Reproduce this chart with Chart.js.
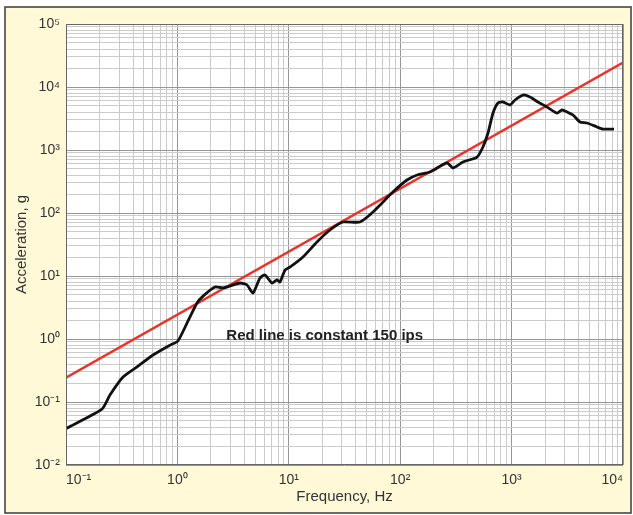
<!DOCTYPE html>
<html>
<head>
<meta charset="utf-8">
<script src="https://cdn.jsdelivr.net/npm/chart.js@4.4.1/dist/chart.umd.min.js"></script>
<style>
body { margin: 0; background: #fff; }
canvas { display: block; }
</style>
</head>
<body>
<canvas id="shockChart" width="633" height="515"></canvas>
<script>
var freqHz = [0.1, 0.21, 0.248, 0.325, 0.434, 0.604, 0.859, 1.01, 1.22, 1.5, 1.7, 2.18, 2.57,
    3.65, 4.22, 4.77, 5.51, 6.11, 7.06, 7.83, 8.34, 9.25, 10.3, 13.4, 17.9, 23.4, 30.7, 43.5,
    57, 86, 115, 142, 185, 263, 298, 366, 489, 553, 614, 681, 755, 837, 968, 1074, 1266,
    1462, 1725, 2078, 2557, 2834, 3143, 3558, 4110, 4750, 5845, 6610, 8300];
var accelG = [0.038, 0.077, 0.129, 0.249, 0.36, 0.557, 0.8, 0.93, 1.79, 3.73, 4.8, 6.69, 6.46,
    7.74, 7.2, 5.37, 9.3, 10.4, 7.74, 8.65, 8.04, 12.4, 13.9, 20, 34.7, 53.7, 72, 72,
    104, 215, 334, 401, 448, 622, 518, 645, 774, 1116, 1862, 3865, 5570, 5780, 5180, 6220, 7460,
    6940, 5780, 4820, 3865, 4315, 4010, 3595, 2780, 2685, 2320, 2150, 2150];

// red line, constant 150 ips
var lineFreq = [0.1, 10000];
var lineAccel = [0.244, 24400];

// tick labels for the decades
var decadeLabels = {
    '-2': '10⁻²', '-1': '10⁻¹', '0': '10⁰', '1': '10¹',
    '2': '10²', '3': '10³', '4': '10⁴', '5': '10⁵'
};

var noteText = 'Red line is constant 150 ips';

function toPoints(xs, ys) {
    return xs.map(function (x, i) { return { x: x, y: ys[i] }; });
}

function isDecade(v) {
    if (!v) return false;
    var l = Math.log10(v);
    return Math.abs(l - Math.round(l)) < 1e-6;
}

function decadeTicks(scale) {
    var lo = Math.round(Math.log10(scale.min));
    var hi = Math.round(Math.log10(scale.max));
    var t = [];
    for (var e = lo; e < hi; e++) {
        for (var m = 1; m < 10; m++) {
            t.push({ value: m * Math.pow(10, e) });
        }
    }
    t.push({ value: Math.pow(10, hi) });
    scale.ticks = t;
}

function tickLabel(value) {
    if (!isDecade(value)) return '';
    return decadeLabels[String(Math.round(Math.log10(value)))];
}

function gridColor(c) {
    return isDecade(c.tick && c.tick.value) ? '#969696' : '#cbcbcb';
}

var framePlugin = {
    id: 'frame',
    beforeDraw: function (chart) {
        var ctx = chart.ctx;
        var a = chart.chartArea;
        ctx.save();
        ctx.fillStyle = '#ffffff';
        ctx.fillRect(0, 0, chart.width, chart.height);
        ctx.fillStyle = '#fff9d8';
        ctx.fillRect(5, 7, chart.width - 7, chart.height - 9);
        ctx.strokeStyle = '#3a3a3a';
        ctx.lineWidth = 1.5;
        ctx.strokeRect(5, 7, chart.width - 7, chart.height - 9);
        ctx.fillStyle = '#ffffff';
        ctx.fillRect(a.left, a.top, a.right - a.left, a.bottom - a.top);
        ctx.restore();
    },
    afterDatasetsDraw: function (chart) {
        var ctx = chart.ctx;
        var a = chart.chartArea;
        ctx.save();
        ctx.strokeStyle = '#666';
        ctx.lineWidth = 1;
        ctx.strokeRect(a.left + 0.5, a.top + 0.5, a.right - a.left - 1, a.bottom - a.top - 1);
        // annotation
        var x = chart.scales.x.getPixelForValue(21);
        var y = chart.scales.y.getPixelForValue(1.12);
        ctx.font = 'bold 15px "Liberation Sans", Arial, sans-serif';
        ctx.fillStyle = '#222';
        ctx.textAlign = 'center';
        ctx.textBaseline = 'middle';
        ctx.fillText(noteText, x, y);
        ctx.restore();
    }
};

var tickFont = { family: '"Liberation Sans", Arial, sans-serif', size: 14 };
var titleFont = { family: '"Liberation Sans", Arial, sans-serif', size: 15 };

new Chart(document.getElementById('shockChart'), {
    type: 'line',
    data: {
        datasets: [{
            label: 'Response',
            data: toPoints(freqHz, accelG),
            borderColor: '#111',
            borderWidth: 2.8,
            pointRadius: 0,
            tension: 0.2
        }, {
            label: '150 ips',
            data: toPoints(lineFreq, lineAccel),
            borderColor: '#e8352b',
            borderWidth: 2.5,
            pointRadius: 0
        }]
    },
    options: {
        responsive: false,
        animation: false,
        devicePixelRatio: 1,
        layout: { padding: { top: 24, right: 10, left: 0, bottom: 0 } },
        plugins: {
            legend: { display: false },
            tooltip: { enabled: false }
        },
        scales: {
            x: {
                type: 'logarithmic',
                min: 0.1,
                max: 10000,
                afterBuildTicks: decadeTicks,
                afterFit: function (s) {
                    s.height = 50;
                    s.paddingLeft = 0;
                    s.paddingRight = 0;
                },
                grid: { color: gridColor, drawTicks: false },
                border: { display: false },
                ticks: {
                    autoSkip: false, maxRotation: 0, padding: 7, align: 'inner',
                    color: '#333', font: tickFont, callback: tickLabel
                },
                title: {
                    display: true, text: 'Frequency, Hz', color: '#333',
                    font: titleFont, padding: { top: 0, bottom: 9 }
                }
            },
            y: {
                type: 'logarithmic',
                min: 0.01,
                max: 100000,
                afterBuildTicks: decadeTicks,
                afterFit: function (s) {
                    s.width = 66;
                    s.paddingTop = 0;
                    s.paddingBottom = 0;
                },
                grid: { color: gridColor, drawTicks: false },
                border: { display: false },
                ticks: {
                    autoSkip: false, padding: 6,
                    color: '#333', font: tickFont, callback: tickLabel
                },
                title: {
                    display: true, text: 'Acceleration, g', color: '#333',
                    font: titleFont, padding: { top: 13, bottom: 0 }
                }
            }
        }
    },
    plugins: [framePlugin]
});
</script>
</body>
</html>
